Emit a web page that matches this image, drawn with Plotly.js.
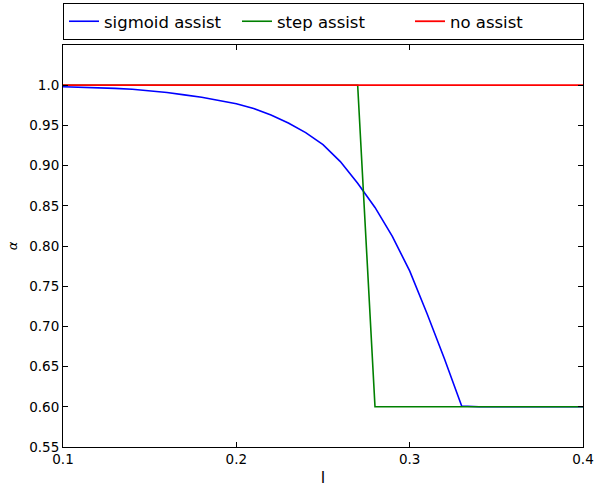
<!DOCTYPE html>
<html>
<head>
<meta charset="utf-8">
<script src="https://cdn.plot.ly/plotly-3.0.1.min.js"></script>
<style>html,body{margin:0;padding:0;background:#fff;}</style>
</head>
<body>
<div id="chart" style="width:595px;height:487px;"></div>
<script>
var xVals = [0.10,0.11,0.12,0.13,0.14,0.15,0.16,0.17,0.18,0.19,0.20,0.21,0.22,0.23,0.24,0.25,0.26,0.27,0.28,0.29,0.30,0.31,0.32,0.33,0.34,0.35,0.36,0.37,0.38,0.39,0.40];
var sigmoidAssist = [0.998,0.9975,0.997,0.996,0.995,0.993,0.991,0.988,0.985,0.981,0.977,0.971,0.963,0.953,0.941,0.926,0.905,0.878,0.848,0.812,0.769,0.716,0.660,0.601,0.600,0.600,0.600,0.600,0.600,0.600,0.600];
var stepAssist = [1,1,1,1,1,1,1,1,1,1,1,1,1,1,1,1,1,1,0.6,0.6,0.6,0.6,0.6,0.6,0.6,0.6,0.6,0.6,0.6,0.6,0.6];
var noAssist = [1,1,1,1,1,1,1,1,1,1,1,1,1,1,1,1,1,1,1,1,1,1,1,1,1,1,1,1,1,1,1];
var seriesNames = ["sigmoid assist","step assist","no assist"];
var xTickVals = [0.1,0.2,0.3,0.4];
var xTickText = ["0.1","0.2","0.3","0.4"];
var yTickVals = [0.55,0.60,0.65,0.70,0.75,0.80,0.85,0.90,0.95,1.0];
var yTickText = ["0.55","0.60","0.65","0.70","0.75","0.80","0.85","0.90","0.95","1.0"];

var traces = [
  {x:xVals, y:sigmoidAssist, name:seriesNames[0], mode:'lines', line:{color:'#0000ff', width:1.6}},
  {x:xVals, y:stepAssist, name:seriesNames[1], mode:'lines', line:{color:'#008000', width:1.6}},
  {x:xVals, y:noAssist, name:seriesNames[2], mode:'lines', line:{color:'#ff0000', width:1.8}}
];

var axisCommon = {
  showgrid:false, zeroline:false, showline:true, linecolor:'#000', linewidth:1,
  mirror:'ticks', ticks:'inside', ticklen:5, tickcolor:'#000', tickwidth:1,
  tickfont:{family:'DejaVu Sans', size:13.5, color:'#000'}
};

var layout = {
  width:595, height:487,
  margin:{l:63, r:12, t:45, b:40, autoexpand:false},
  paper_bgcolor:'#fff', plot_bgcolor:'#fff',
  font:{family:'DejaVu Sans', color:'#000'},
  showlegend:true,
  legend:{
    orientation:'h', x:0, xanchor:'left', y:1.0124, yanchor:'bottom',
    bordercolor:'#000', borderwidth:1, bgcolor:'#fff',
    font:{family:'DejaVu Sans', size:16.5, color:'#000'},
    entrywidth:128, entrywidthmode:'pixels', traceorder:'normal'
  },
  xaxis:Object.assign({}, axisCommon, {
    range:[0.1,0.4], tickvals:xTickVals, ticktext:xTickText,
    title:{text:'l', font:{family:'DejaVu Sans', size:16, color:'#000'}, standoff:8}
  }),
  yaxis:Object.assign({}, axisCommon, {
    range:[0.55,1.05], tickvals:yTickVals, ticktext:yTickText,
    title:{text:'<i>α</i>', font:{family:'DejaVu Sans', size:13, color:'#000'}, standoff:8}
  })
};

Plotly.newPlot('chart', traces, layout, {displayModeBar:false, staticPlot:true});
</script>
</body>
</html>
